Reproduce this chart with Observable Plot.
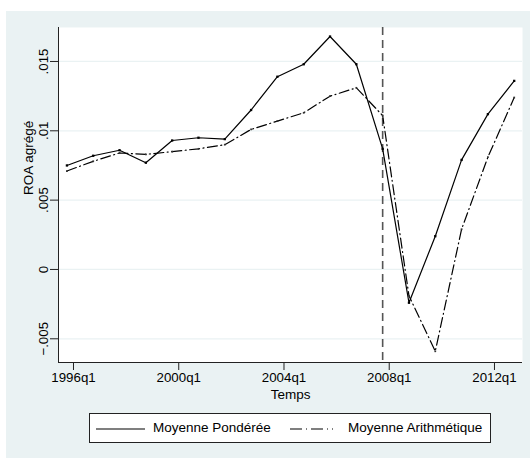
<!DOCTYPE html>
<html><head><meta charset="utf-8">
<script src="https://cdn.jsdelivr.net/npm/d3@7"></script>
<script src="https://cdn.jsdelivr.net/npm/@observablehq/plot@0.6"></script>
<style>
html,body{margin:0;padding:0;background:#fff;}
#wrap{position:relative;width:530px;height:458px;overflow:hidden;font-family:"Liberation Sans",Arial,sans-serif;}
#panel{position:absolute;left:6px;top:11px;right:0;bottom:0;background:#EAF2F3;}
#chart{position:absolute;left:0;top:0;}
#legend{position:absolute;left:89px;top:413px;width:400px;height:28px;border:1px solid #222;background:#fff;font-size:13.5px;color:#000;}
#legend .sw{position:absolute;top:7px;}
#legend .lb{position:absolute;top:6px;line-height:16px;white-space:nowrap;}
</style></head>
<body>
<div id="wrap"><div id="panel"></div><div id="chart"></div>
<div id="legend">
  <svg class="sw" style="left:6px" width="50" height="14"><line x1="0" x2="49" y1="8" y2="8" stroke="#000" stroke-width="1.2"/></svg>
  <span class="lb" style="left:63px">Moyenne Pondérée</span>
  <svg class="sw" style="left:200px" width="44" height="14"><line x1="0" x2="43" y1="8" y2="8" stroke="#000" stroke-width="1.2" stroke-dasharray="12,4,1,4"/></svg>
  <span class="lb" style="left:258px">Moyenne Arithmétique</span>
</div>
</div>
<script>
const periods = ["1995q4","1996q4","1997q4","1998q4","1999q4","2000q4","2001q4","2002q4","2003q4","2004q4","2005q4","2006q4","2007q4","2008q4","2009q4","2010q4","2011q4","2012q4"];
const weighted = [0.0075,0.0082,0.0086,0.0077,0.0093,0.0095,0.0094,0.0115,0.0139,0.0148,0.0168,0.0148,0.0087,-0.0024,0.0024,0.0079,0.0112,0.0136];
const arithmetic = [0.0071,0.0078,0.0084,0.0083,0.0085,0.0087,0.0090,0.0101,0.0107,0.0113,0.0125,0.0131,0.0111,-0.0019,-0.0059,0.0029,0.0081,0.0124];
const xTickLabels = ["1996q1","2000q1","2004q1","2008q1","2012q1"];
const yTicks = [-0.005,0,0.005,0.01,0.015];
const crisis = "2007q4";
const xLabel = "Temps";
const yLabel = "ROA agrégé";

const toQ = s => { const [y,q] = s.split("q").map(Number); return y*4 + (q-1); };
const fmtQ = v => `${Math.floor(v/4)}q${(v%4)+1}`;
const fmtY = v => v === 0 ? "0" : (v < 0 ? "\u2212" : "") + String(Math.abs(v)).replace(/^0/, "");
const rows = periods.map((p,i) => ({t: toQ(p), w: weighted[i], a: arithmetic[i]}));
const base = toQ(xTickLabels[0]);
const xDomain = [base - 2.28, base + 68.26];
const yDomain = [-0.00671, 0.01745];

const chart = Plot.plot({
  width: 530, height: 458,
  marginLeft: 58, marginRight: 8, marginTop: 27, marginBottom: 96,
  style: {background: "transparent", fontFamily: "'Liberation Sans', Arial, sans-serif", fontSize: "13.3px", color: "#000"},
  x: {domain: xDomain},
  y: {domain: yDomain},
  marks: [
    Plot.frame({fill: "white", stroke: "none"}),
    Plot.gridY(yTicks, {stroke: "#EAF2F3", strokeOpacity: 1, strokeWidth: 1.3}),
    Plot.ruleX([toQ(crisis)], {stroke: "#555", strokeWidth: 1.6, strokeDasharray: "8,5"}),
    Plot.line(rows, {x: "t", y: "a", stroke: "#000", strokeWidth: 1.2, strokeDasharray: "10,3.5,1,3.5"}),
    Plot.line(rows, {x: "t", y: "w", stroke: "#000", strokeWidth: 1.2}),
    Plot.dot(rows, {x: "t", y: "w", symbol: "square", r: 1.3, fill: "#000"}),
    Plot.dot(rows, {x: "t", y: "a", symbol: "square", r: 1.0, fill: "#333"}),
    Plot.ruleY([yDomain[0]], {stroke: "#222"}),
    Plot.ruleX([xDomain[0]], {stroke: "#222"}),
    Plot.axisX(xTickLabels.map(toQ), {tickSize: 8, tickPadding: 2, tickFormat: fmtQ, label: null, stroke: "#222"}),
    Plot.axisY(yTicks, {tickSize: 8, tickPadding: 3, tickRotate: -90, tickFormat: fmtY, label: null, stroke: "#222"}),
    Plot.text([xLabel], {frameAnchor: "bottom", dy: 36, fontSize: 13.5}),
    Plot.text([yLabel], {frameAnchor: "left", dx: -30, rotate: -90, fontSize: 13.5})
  ]
});
document.getElementById("chart").appendChild(chart);
</script>
</body></html>
